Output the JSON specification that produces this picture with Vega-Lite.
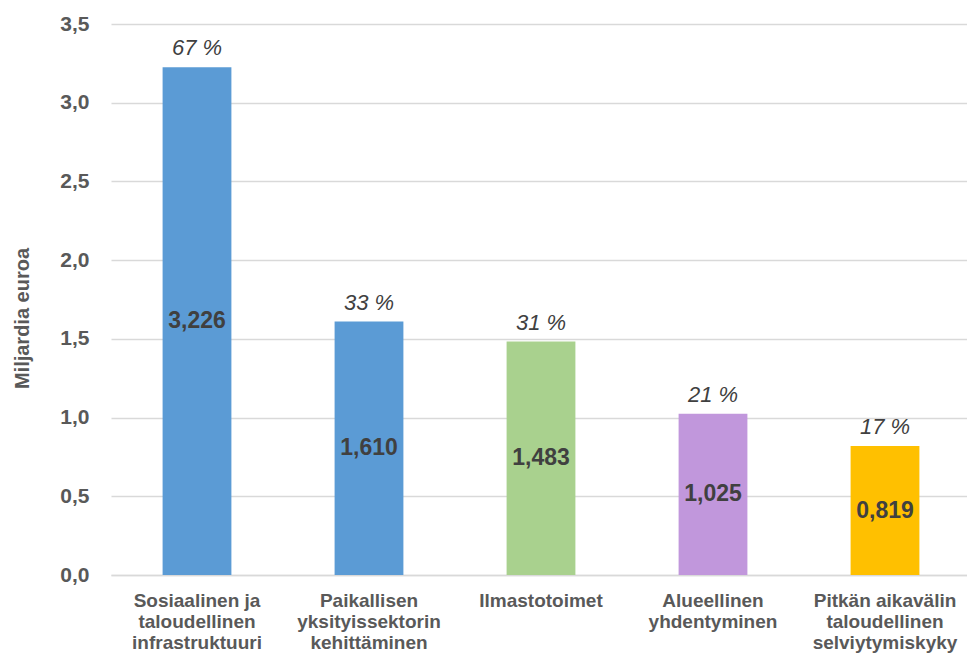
{
  "$schema": "https://vega.github.io/schema/vega-lite/v6.json",
  "width": 860,
  "height": 551,
  "autosize": {"type": "none"},
  "padding": {"left": 111, "top": 24, "right": 0, "bottom": 84},
  "background": "white",
  "config": {"view": {"stroke": null}},
  "data": {
    "values": [
      {"category": "Sosiaalinen ja\ntaloudellinen\ninfrastruktuuri", "value": 3.226, "pct": 67, "group": "a"},
      {"category": "Paikallisen\nyksityissektorin\nkehittäminen", "value": 1.61, "pct": 33, "group": "a"},
      {"category": "Ilmastotoimet", "value": 1.483, "pct": 31, "group": "b"},
      {"category": "Alueellinen\nyhdentyminen", "value": 1.025, "pct": 21, "group": "c"},
      {"category": "Pitkän aikavälin\ntaloudellinen\nselviytymiskyky", "value": 0.819, "pct": 17, "group": "d"}
    ]
  },
  "transform": [
    {"calculate": "datum.value / 2", "as": "half"},
    {"calculate": "replace(format(datum.value, '.3f'), '.', ',')", "as": "valueLabel"},
    {"calculate": "datum.pct + ' %'", "as": "pctLabel"}
  ],
  "encoding": {
    "x": {
      "field": "category",
      "type": "nominal",
      "sort": null,
      "scale": {"paddingInner": 0.6, "paddingOuter": 0.3},
      "axis": {
        "title": null,
        "labelAngle": 0,
        "labelExpr": "split(datum.label, '\\n')",
        "labelFont": "Liberation Sans",
        "labelFontSize": 19,
        "labelFontWeight": "bold",
        "labelColor": "#595959",
        "labelLineHeight": 21,
        "labelPadding": 16,
        "labelBaseline": "top",
        "ticks": false,
        "domainColor": "#d9d9d9",
        "domainWidth": 1.5
      }
    }
  },
  "layer": [
    {
      "mark": {"type": "bar"},
      "encoding": {
        "y": {
          "field": "value",
          "type": "quantitative",
          "scale": {"domain": [0, 3.5], "nice": false},
          "axis": {
            "title": "Miljardia euroa",
            "titleFont": "Liberation Sans",
            "titleFontSize": 20,
            "titleFontWeight": "bold",
            "titleColor": "#595959",
            "titleX": -89,
            "titleY": 294,
            "titleBaseline": "middle",
            "titleAngle": -90,
            "values": [0, 0.5, 1, 1.5, 2, 2.5, 3, 3.5],
            "labelExpr": "replace(format(datum.value, '.1f'), '.', ',')",
            "labelFont": "Liberation Sans",
            "labelFontSize": 21,
            "labelFontWeight": "bold",
            "labelColor": "#595959",
            "labelPadding": 22,
            "ticks": false,
            "domain": false,
            "grid": true,
            "gridColor": "#d9d9d9",
            "gridWidth": 1.5
          }
        },
        "color": {
          "field": "group",
          "type": "nominal",
          "scale": {
            "domain": ["a", "b", "c", "d"],
            "range": ["#5B9BD5", "#A9D18E", "#C197DC", "#FFC000"]
          },
          "legend": null
        }
      }
    },
    {
      "mark": {
        "type": "text",
        "font": "Liberation Sans",
        "fontSize": 23,
        "fontWeight": "bold",
        "color": "#404040",
        "baseline": "middle"
      },
      "encoding": {
        "y": {"field": "half", "type": "quantitative"},
        "text": {"field": "valueLabel"}
      }
    },
    {
      "mark": {
        "type": "text",
        "font": "Liberation Sans",
        "fontSize": 22,
        "fontStyle": "italic",
        "color": "#404040",
        "baseline": "bottom",
        "dy": -7
      },
      "encoding": {
        "y": {"field": "value", "type": "quantitative"},
        "text": {"field": "pctLabel"}
      }
    }
  ]
}
